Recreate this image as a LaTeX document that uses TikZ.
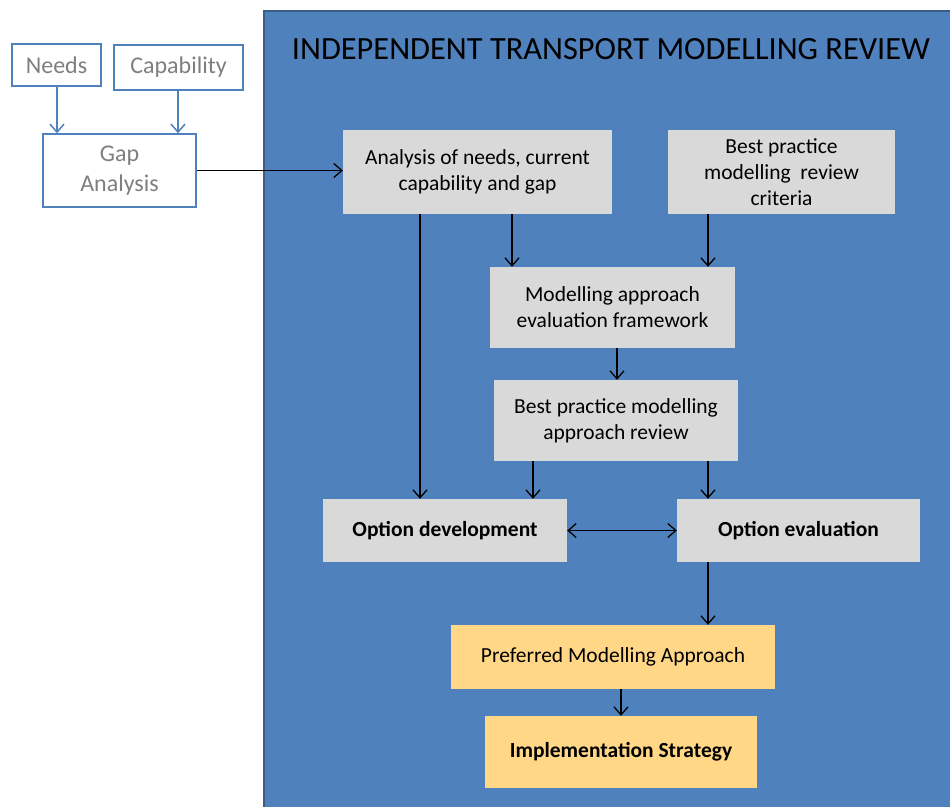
\documentclass[tikz,border=0pt]{standalone}
\usepackage{fontspec}
\setmainfont{Carlito}
\usetikzlibrary{arrows.meta}
\definecolor{panelblue}{HTML}{4F81BD}
\definecolor{panelborder}{HTML}{385D8A}
\definecolor{boxgray}{HTML}{D9D9D9}
\definecolor{boxorange}{HTML}{FFD786}
\definecolor{txtgray}{HTML}{7F7F7F}
\begin{document}
\begin{tikzpicture}[x=1pt,y=-1pt,
  graybox/.style={fill=boxgray,draw=none,align=center,inner sep=0pt,font=\fontsize{21.5}{26}\selectfont},
  orangebox/.style={fill=boxorange,draw=none,align=center,inner sep=0pt,font=\fontsize{21.5}{26}\selectfont},
  inbox/.style={fill=white,draw=panelblue,line width=1.5pt,align=center,inner sep=0pt,text=txtgray,font=\fontsize{24}{30}\selectfont},
  flow/.style={draw=black,line width=1.3pt,-{Straight Barb[length=8pt,width=14pt,line width=1.3pt]}},
  bflow/.style={draw=black,line width=1.3pt,{Straight Barb[length=8pt,width=14pt,line width=1.3pt]}-{Straight Barb[length=8pt,width=14pt,line width=1.3pt]}},
  blueflow/.style={draw=panelblue,line width=1.5pt,-{Straight Barb[length=8pt,width=14pt,line width=1.5pt]}}]
\useasboundingbox (0,0) rectangle (950,806);
\fill[white] (0,0) rectangle (950,806);
% panel
\begin{scope}
\clip (0,0) rectangle (950,806);
\draw[fill=panelblue,draw=panelborder,line width=2.5pt] (264,11) rectangle (965,830);
\end{scope}
\node[font=\fontsize{32.4}{36}\selectfont,anchor=center] (title) at (611,49) {INDEPENDENT TRANSPORT MODELLING REVIEW};
% left boxes
\node[inbox,minimum width=89pt,minimum height=42pt] (needs) at (56.5,65) {Needs};
\node[inbox,minimum width=129pt,minimum height=45pt] (cap) at (178.5,67.5) {Capability};
\node[inbox,minimum width=153pt,minimum height=73pt] (gap) at (119.5,170.5) {Gap\\Analysis};
% gray boxes
\node[graybox,minimum width=269pt,minimum height=84pt] (analysis) at (477.5,172) {Analysis of needs, current\\capability and gap};
\node[graybox,minimum width=227pt,minimum height=84pt] (criteria) at (781.5,172) {Best practice\\modelling\ \ review\\criteria};
\node[graybox,minimum width=245pt,minimum height=81pt] (framework) at (612.5,307.5) {Modelling approach\\evaluation framework};
\node[graybox,minimum width=244pt,minimum height=81pt] (review) at (616,420.5) {Best practice modelling\\approach review};
\node[graybox,minimum width=244pt,minimum height=63pt,font=\fontsize{21.5}{26}\selectfont\bfseries] (optdev) at (445,530.5) {Option development};
\node[graybox,minimum width=243pt,minimum height=63pt,font=\fontsize{21.5}{26}\selectfont\bfseries] (opteval) at (798.5,530.5) {Option evaluation};
\node[orangebox,minimum width=324pt,minimum height=64pt] (pref) at (613,657) {Preferred Modelling Approach};
\node[orangebox,minimum width=272pt,minimum height=72pt,font=\fontsize{21.5}{26}\selectfont\bfseries] (impl) at (621,752) {Implementation Strategy};
% x guides
\coordinate (x420) at (420,0);
\coordinate (x512) at (512,0);
\coordinate (x533) at (533,0);
\coordinate (x617) at (617,0);
\coordinate (x621) at (621,0);
\coordinate (x708) at (708,0);
\coordinate (x57) at (57,0);
\coordinate (x178) at (178,0);
% arrows
\draw[blueflow] (needs.south -| x57) -- (gap.north -| x57);
\draw[blueflow] (cap.south -| x178) -- (gap.north -| x178);
\draw[flow] (gap.east) -- (gap.east -| analysis.west);
\draw[flow] (analysis.south -| x420) -- (optdev.north -| x420);
\draw[flow] (analysis.south -| x512) -- (framework.north -| x512);
\draw[flow] (criteria.south -| x708) -- (framework.north -| x708);
\draw[flow] (framework.south -| x617) -- (review.north -| x617);
\draw[flow] (review.south -| x533) -- (optdev.north -| x533);
\draw[flow] (review.south -| x708) -- (opteval.north -| x708);
\draw[bflow] (optdev.east) -- (opteval.west);
\draw[flow] (opteval.south -| x708) -- (pref.north -| x708);
\draw[flow] (pref.south -| x621) -- (impl.north -| x621);
\end{tikzpicture}
\end{document}
